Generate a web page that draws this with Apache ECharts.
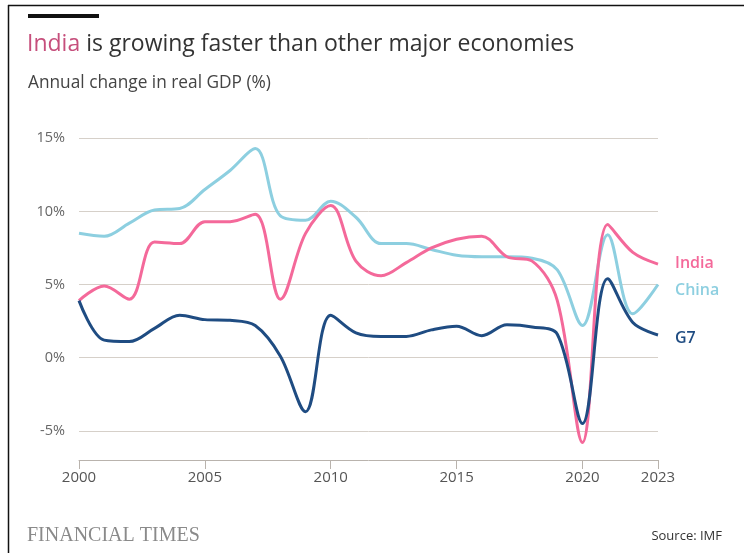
<!DOCTYPE html>
<html>
<head>
<meta charset="utf-8">
<script src="https://cdn.jsdelivr.net/npm/echarts@6/dist/echarts.min.js"></script>
<style>
html,body{margin:0;padding:0;background:#fff;}
#chart{width:744px;height:553px;}
</style>
</head>
<body>
<div id="chart"></div>
<script>
const years = ['2000','2001','2002','2003','2004','2005','2006','2007','2008','2009','2010','2011','2012','2013','2014','2015','2016','2017','2018','2019','2020','2021','2022','2023'];
const india = [3.9,4.9,4.0,7.9,7.8,9.3,9.3,9.8,4.0,8.5,10.4,6.6,5.6,6.5,7.5,8.1,8.3,6.9,6.6,3.9,-5.8,9.1,7.2,6.4];
const china = [8.5,8.3,9.2,10.1,10.2,11.5,12.8,14.3,9.7,9.4,10.7,9.6,7.8,7.8,7.4,7.0,6.9,6.9,6.8,6.0,2.2,8.4,3.0,5.0];
const g7 = [3.9,1.2,1.1,2.0,2.9,2.6,2.55,2.2,0.1,-3.7,2.9,1.7,1.45,1.45,1.9,2.15,1.5,2.25,2.1,1.6,-4.5,5.4,2.4,1.55];
const xTickLabels = ['2000','2005','2010','2015','2020','2023'];
const yTicks = [-5,0,5,10,15];

const font = '"Open Sans", "Noto Sans", sans-serif';
const cIndia = '#f4699a', cChina = '#8dcfe0', cG7 = '#1f4c82';

const chart = echarts.init(document.getElementById('chart'), null, {renderer:'canvas'});
const showX = (i) => xTickLabels.indexOf(years[i]) >= 0;

function mkSeries(name, data, color, offY){
  return {
    name, type:'line', data, smooth:0.35, symbol:'none',
    lineStyle:{color, width:3}, itemStyle:{color},
    endLabel:{show:true, formatter:name, color, fontFamily:font, fontSize:16, fontWeight:600, distance:17, offset:[0,offY]},
    z: name==='G7'?5:(name==='India'?4:3)
  };
}

chart.setOption({
  animation:false,
  backgroundColor:'#fff',
  grid:{left:79, right:86, top:138.3, bottom:93},
  xAxis:{
    type:'category', data:years, boundaryGap:false,
    axisLine:{show:true, onZero:false, lineStyle:{color:'#b9b3ad', width:1}},
    axisTick:{show:true, length:9, interval:(i)=>showX(i), lineStyle:{color:'#b9b3ad'}},
    axisLabel:{interval:(i)=>showX(i), color:'#555', fontFamily:font, fontSize:15, margin:10},
    splitLine:{show:false}
  },
  yAxis:{
    type:'value', min:-7, max:15,
    axisLine:{show:false},
    axisTick:{show:false, customValues: yTicks},
    axisLabel:{color:'#666', fontFamily:font, fontSize:14.5, margin:14,
      formatter:(v)=> v+'%',
      customValues: yTicks},
    splitLine:{show:true, lineStyle:{color:'#d6d0c9', width:1}}
  },
  series:[
    mkSeries('China', china, cChina, 6),
    mkSeries('India', india, cIndia, -1),
    mkSeries('G7', g7, cG7, 3)
  ],
  graphic:[
    {type:'line', shape:{x1:8,y1:5.5,x2:744,y2:5.5}, style:{stroke:'#111', lineWidth:1.5}},
    {type:'line', shape:{x1:8.5,y1:5,x2:8.5,y2:553}, style:{stroke:'#111', lineWidth:1.5}},
    {type:'rect', shape:{x:28,y:14,width:71,height:4}, style:{fill:'#111'}},
    {type:'text', left:27, top:33, style:{
      text:'{a|India} is growing faster than other major economies',
      rich:{a:{fill:'#c64f7c', fontFamily:font, fontSize:23}},
      fill:'#333', fontFamily:font, fontSize:23}},
    {type:'text', left:28, top:75, style:{text:'Annual change in real GDP (%)', fill:'#444', fontFamily:font, fontSize:17.3}},
    {type:'text', left:27, top:526, style:{text:'FINANCIAL TIMES', fill:'#8a8a8a', fontFamily:'"Liberation Serif", "DejaVu Serif", serif', fontSize:20}},
    {type:'text', right:22, top:530, style:{text:'Source: IMF', fill:'#333', fontFamily:font, fontSize:13}}
  ]
});
</script>
</body>
</html>
